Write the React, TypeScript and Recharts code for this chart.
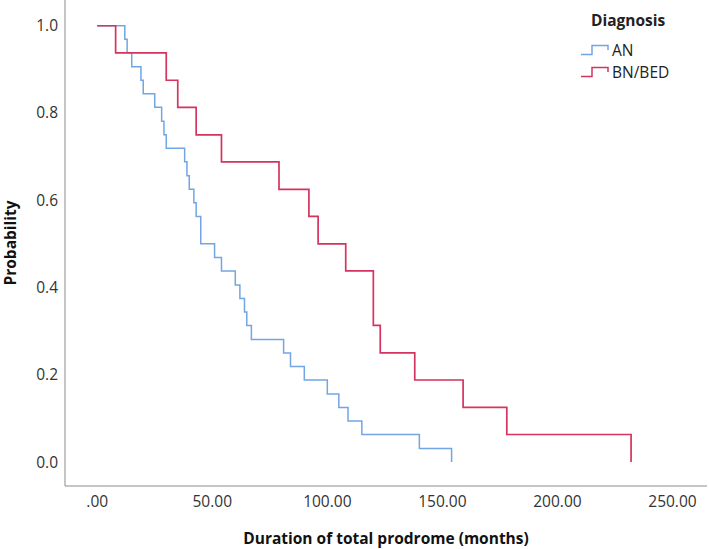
import React from "react";
import { LineChart, Line, XAxis, YAxis, Legend } from "recharts";

// Kaplan-Meier steps: event time (months) and survival probability after it
const anTimes = [0, 12, 13, 15, 19, 20, 25, 28, 29, 30, 38, 39, 40, 42, 43, 45, 51, 54, 60, 62, 64, 65, 67, 81, 84, 90, 100, 105, 109, 115, 140, 154];
const anSurvival = [1, 0.969, 0.938, 0.906, 0.875, 0.844, 0.813, 0.781, 0.75, 0.719, 0.688, 0.656, 0.625, 0.594, 0.563, 0.5, 0.469, 0.438, 0.406, 0.375, 0.344, 0.313, 0.281, 0.25, 0.219, 0.188, 0.156, 0.125, 0.094, 0.063, 0.031, 0];

const bnTimes = [0, 8, 30, 35, 43, 54, 79, 92, 96, 108, 120, 123, 138, 159, 178, 232];
const bnSurvival = [1, 0.938, 0.875, 0.813, 0.75, 0.688, 0.625, 0.563, 0.5, 0.438, 0.313, 0.25, 0.188, 0.125, 0.063, 0];

const xTicks = [0, 50, 100, 150, 200, 250];
const yTicks = [0, 0.2, 0.4, 0.6, 0.8, 1.0];

const AN_COLOR = "#72a5e4";
const BN_COLOR = "#d4345e";
const AXIS_COLOR = "#8c8c8c";
const FONT = "'Open Sans', sans-serif";
const FONT_SIZE = 15.5;

const anPoints = anTimes.map((t, i) => ({ t, p: anSurvival[i] }));
const bnPoints = bnTimes.map((t, i) => ({ t, p: bnSurvival[i] }));

const formatX = (v: number) => (v === 0 ? ".00" : v.toFixed(2));
const formatY = (v: number) => v.toFixed(1);

function StepIcon({ color }: { color: string }) {
    return (
        <svg width={28} height={12} style={{ display: "block" }}>
            <path d="M0 10.5 H11 V1.5 H27 V6" fill="none" stroke={color} strokeWidth={1.5} />
        </svg>
    );
}

function renderLegend(props: any) {
    const items = props.payload || [];
    return (
        <div style={{ fontFamily: FONT, fontSize: FONT_SIZE, color: "#222", textAlign: "left" }}>
            <div style={{ fontWeight: 700, lineHeight: "22px", paddingLeft: 10, marginBottom: 8 }}>Diagnosis</div>
            {items.map((entry: any) => (
                <div key={entry.value} style={{ display: "flex", alignItems: "center", height: 22, gap: 3 }}>
                    <StepIcon color={entry.color} />
                    <span>{entry.value}</span>
                </div>
            ))}
        </div>
    );
}

export default function App() {
    return (
        <div style={{ position: "absolute", left: 0, top: 0, width: 709, height: 549, background: "#fff" }}>
            <LineChart width={709} height={549} margin={{ top: 0, right: 2, bottom: 0, left: 0 }}>
                <XAxis
                    dataKey="t"
                    type="number"
                    domain={[-14, 265]}
                    allowDataOverflow
                    ticks={xTicks}
                    tickFormatter={formatX}
                    tickLine={false}
                    tickSize={0}
                    tickMargin={10}
                    height={63}
                    stroke={AXIS_COLOR}
                    tick={{ fill: "#333", fontSize: FONT_SIZE, fontFamily: FONT }}
                    label={{
                        content: ({ viewBox }: any) => (
                            <text
                                x={viewBox.x + viewBox.width / 2}
                                y={viewBox.y + 52}
                                textAnchor="middle"
                                dominantBaseline="central"
                                fontFamily={FONT}
                                fontWeight={700}
                                fontSize={FONT_SIZE}
                                fill="#111"
                            >
                                Duration of total prodrome (months)
                            </text>
                        ),
                    }}
                />
                <YAxis
                    type="number"
                    domain={[-0.055, 1.059]}
                    allowDataOverflow
                    ticks={yTicks}
                    tickFormatter={formatY}
                    tickLine={false}
                    tickSize={0}
                    tickMargin={7}
                    width={65}
                    stroke={AXIS_COLOR}
                    tick={{ fill: "#333", fontSize: FONT_SIZE, fontFamily: FONT }}
                    label={{
                        content: ({ viewBox }: any) => {
                            const cx = viewBox.x + 10;
                            const cy = viewBox.y + viewBox.height / 2;
                            return (
                                <text
                                    x={cx}
                                    y={cy}
                                    transform={`rotate(-90 ${cx} ${cy})`}
                                    textAnchor="middle"
                                    dominantBaseline="central"
                                    fontFamily={FONT}
                                    fontWeight={700}
                                    fontSize={FONT_SIZE}
                                    fill="#111"
                                >
                                    Probability
                                </text>
                            );
                        },
                    }}
                />
                {/* horizontal + middle + center keeps the legend from shrinking the plot */}
                <Legend
                    layout="horizontal"
                    verticalAlign="middle"
                    align="center"
                    content={renderLegend}
                    wrapperStyle={{ position: "absolute", top: 9, left: 581, width: 128 }}
                />
                <Line
                    name="AN"
                    data={anPoints}
                    dataKey="p"
                    type="stepAfter"
                    stroke={AN_COLOR}
                    strokeWidth={1.5}
                    dot={false}
                    activeDot={false}
                    isAnimationActive={false}
                />
                <Line
                    name="BN/BED"
                    data={bnPoints}
                    dataKey="p"
                    type="stepAfter"
                    stroke={BN_COLOR}
                    strokeWidth={1.7}
                    dot={false}
                    activeDot={false}
                    isAnimationActive={false}
                />
            </LineChart>
        </div>
    );
}
